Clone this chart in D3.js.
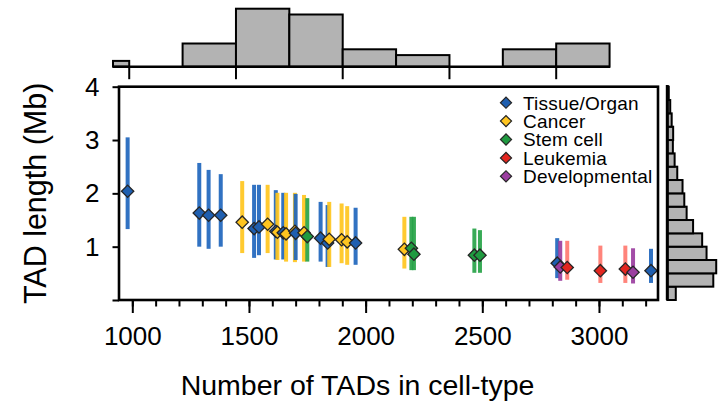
<!DOCTYPE html>
<html>
<head>
<meta charset="utf-8">
<script src="https://cdn.jsdelivr.net/npm/d3@7"></script>
<style>
  body { margin: 0; background: #fff; }
  text { font-family: "Liberation Sans", Arial, sans-serif; fill: #000; }
</style>
</head>
<body>
<svg id="chart" width="719" height="412"></svg>
<script>
// cell-type categories
const categories = ["Tissue/Organ", "Cancer", "Stem cell", "Leukemia", "Developmental"];
const fillColors = ["#1f5fb0", "#ffc520", "#1f9a40", "#e3261f", "#9b3ea0"];
const barColors  = ["#1f66bd", "#ffc61e", "#27a348", "#ff7a70", "#9b3ea0"];

// one entry per cell type: category index, number of TADs, mean / low / high TAD length (Mb)
const pointType = [0, 0, 0, 0, 1, 0, 0, 1, 0, 1, 0, 1, 1, 0, 1, 2, 0, 0, 1, 1, 1, 0, 1, 2, 2, 2, 2, 0, 4, 3, 3, 3, 4, 0];
const tadCount  = [980, 1287, 1327, 1379, 1471, 1522, 1543, 1580, 1615, 1622, 1647, 1659, 1697, 1700, 1736, 1750, 1807, 1837, 1844, 1897, 1921, 1957, 2166, 2196, 2207, 2466, 2490, 2821, 2834, 2864, 3006, 3113, 3146, 3223];
const tadMean   = [2.04, 1.63, 1.59, 1.59, 1.46, 1.34, 1.37, 1.42, 1.29, 1.27, 1.26, 1.24, 1.29, 1.25, 1.26, 1.19, 1.16, 1.07, 1.14, 1.13, 1.09, 1.07, 0.95, 0.97, 0.86, 0.84, 0.84, 0.69, 0.62, 0.61, 0.55, 0.58, 0.52, 0.55];
const tadLow    = [1.33, 1.00, 0.96, 1.00, 0.88, 0.79, 0.84, 0.88, 0.76, 0.75, 0.76, 0.72, 0.71, 0.75, 0.72, 0.72, 0.72, 0.62, 0.62, 0.69, 0.66, 0.66, 0.59, 0.56, 0.56, 0.51, 0.51, 0.41, 0.36, 0.38, 0.32, 0.32, 0.31, 0.32];
const tadHigh   = [3.05, 2.57, 2.44, 2.36, 2.23, 2.16, 2.16, 2.16, 2.06, 2.01, 2.01, 2.01, 2.01, 1.99, 1.97, 1.91, 1.84, 1.78, 1.84, 1.81, 1.76, 1.73, 1.56, 1.56, 1.56, 1.34, 1.31, 1.16, 1.11, 1.11, 1.02, 1.02, 0.97, 0.96];

// top marginal histogram (number of TADs, bins of 250)
const topBinStart = [750, 1000, 1250, 1500, 1750, 2000, 2250, 2500, 2750, 3000];
const topBinCount = [1, 0, 4, 10, 9, 3, 2, 0, 3, 4];

// right marginal histogram (TAD length, bins of 0.25 Mb, % of TADs)
const rightBinStart = [0, 0.25, 0.5, 0.75, 1, 1.25, 1.5, 1.75, 2, 2.25, 2.5, 2.75, 3, 3.25, 3.5, 3.75];
const rightBinPct   = [2.9, 15.7, 16.7, 13.4, 11.9, 8.8, 6.6, 5.8, 5.2, 3.4, 2.5, 1.9, 2.0, 1.5, 1.0, 0.5];

const xTicksMajor = [1000, 1500, 2000, 2500, 3000];
const yTicks = [0, 1, 2, 3, 4];

const points = tadCount.map((n, i) => ({
  n, mean: tadMean[i], lo: tadLow[i], hi: tadHigh[i], type: pointType[i]
}));

const svg = d3.select("#chart");

const pLeft = 119, pRight = 658, pTop = 86.7, pBottom = 300;

const x = d3.scaleLinear().domain([943, 3253]).range([pLeft, pRight]);
const y = d3.scaleLinear().domain([0, 4]).range([pBottom, pTop]);

// ---- top histogram
const hx = d3.scaleLinear().domain([924, 3252]).range([113, 610]);
const hBase = 66.7;
const hy = d3.scaleLinear().domain([0, 10]).range([hBase, 8.7]);

svg.append("g")
  .selectAll("rect")
  .data(topBinStart.map((s, i) => ({ s, c: topBinCount[i] })).filter(d => d.c > 0))
  .join("rect")
  .attr("x", d => hx(Math.max(d.s, hx.domain()[0])))
  .attr("width", d => hx(d.s + 250) - hx(Math.max(d.s, hx.domain()[0])))
  .attr("y", d => hy(d.c))
  .attr("height", d => hBase - hy(d.c))
  .attr("fill", "#b3b3b3")
  .attr("stroke", "#000")
  .attr("stroke-width", 2);

svg.append("line")
  .attr("x1", hx.range()[0]).attr("x2", hx.range()[1])
  .attr("y1", hBase).attr("y2", hBase)
  .attr("stroke", "#000").attr("stroke-width", 2.5);

svg.append("g")
  .selectAll("line")
  .data(xTicksMajor)
  .join("line")
  .attr("x1", d => hx(d)).attr("x2", d => hx(d))
  .attr("y1", hBase).attr("y2", hBase + 12.5)
  .attr("stroke", "#000").attr("stroke-width", 2);

// ---- right histogram
const rx = d3.scaleLinear().domain([0, 17]).range([667.3, 717.1]);

svg.append("g")
  .selectAll("rect")
  .data(rightBinStart.map((s, i) => ({ s, p: rightBinPct[i] })))
  .join("rect")
  .attr("x", rx(0))
  .attr("width", d => rx(d.p) - rx(0))
  .attr("y", d => y(d.s + 0.25))
  .attr("height", d => y(d.s) - y(d.s + 0.25))
  .attr("fill", "#b3b3b3")
  .attr("stroke", "#000")
  .attr("stroke-width", 2);

svg.append("line")
  .attr("x1", rx(0)).attr("x2", rx(0))
  .attr("y1", 85).attr("y2", pBottom)
  .attr("stroke", "#000").attr("stroke-width", 3);

// ---- axes
const xMinor = svg.append("g")
  .attr("transform", `translate(0,${pBottom})`)
  .call(d3.axisBottom(x).tickValues(d3.range(1000, 3201, 100)).tickSize(6.5).tickFormat(""));
xMinor.select(".domain").remove();

const xAxis = svg.append("g")
  .attr("transform", `translate(0,${pBottom})`)
  .call(d3.axisBottom(x).tickValues(xTicksMajor).tickSize(13).tickPadding(14).tickFormat(d3.format("d")));
xAxis.select(".domain").remove();
xAxis.selectAll("text").attr("font-size", 26).attr("dy", "0.71em");

const yAxis = svg.append("g")
  .attr("transform", `translate(${pLeft},0)`)
  .call(d3.axisLeft(y).tickValues(yTicks).tickSize(6.5).tickPadding(13)
    .tickFormat(d => d === 0 ? "" : d));
yAxis.select(".domain").remove();
yAxis.selectAll("text").attr("font-size", 26);

svg.selectAll(".tick line").attr("stroke", "#000").attr("stroke-width", 2);
svg.selectAll(".tick text").style("font-family", "'Liberation Sans', Arial, sans-serif");

// ---- error bars and points
const plot = svg.append("g");

plot.selectAll("rect.err")
  .data(points)
  .join("rect")
  .attr("class", "err")
  .attr("x", d => x(d.n) - 2)
  .attr("width", 4)
  .attr("y", d => y(d.hi))
  .attr("height", d => y(d.lo) - y(d.hi))
  .attr("fill", d => barColors[d.type])
  .attr("opacity", 0.92);

const diamond = d3.symbol().type(d3.symbolSquare).size(76);

plot.selectAll("path.pt")
  .data(points)
  .join("path")
  .attr("class", "pt")
  .attr("d", diamond)
  .attr("transform", d => `translate(${x(d.n)},${y(d.mean)}) rotate(45)`)
  .attr("fill", d => fillColors[d.type])
  .attr("stroke", "#262626")
  .attr("stroke-width", 1.3);

// ---- frame
svg.append("rect")
  .attr("x", pLeft).attr("y", pTop)
  .attr("width", pRight - pLeft).attr("height", pBottom - pTop)
  .attr("fill", "none")
  .attr("stroke", "#000")
  .attr("stroke-width", 2.6);

// ---- legend
const legend = svg.append("g").attr("transform", "translate(506,102.7)");
const rows = legend.selectAll("g")
  .data(categories)
  .join("g")
  .attr("transform", (d, i) => `translate(0,${i * 18.4})`);

rows.append("path")
  .attr("d", d3.symbol().type(d3.symbolSquare).size(62))
  .attr("transform", "rotate(45)")
  .attr("fill", (d, i) => fillColors[i])
  .attr("stroke", "#262626")
  .attr("stroke-width", 1.2);

rows.append("text")
  .attr("x", 17)
  .attr("dy", "0.36em")
  .attr("font-size", 19)
  .attr("letter-spacing", 0.2)
  .text(d => d);

// ---- titles
svg.append("text")
  .attr("x", (pLeft + pRight) / 2 - 31)
  .attr("y", 395)
  .attr("text-anchor", "middle")
  .attr("font-size", 28.5)
  .text("Number of TADs in cell-type");

svg.append("text")
  .attr("transform", `translate(46,${(pTop + pBottom) / 2}) rotate(-90)`)
  .attr("text-anchor", "middle")
  .attr("font-size", 30.5)
  .text("TAD length (Mb)");
</script>
</body>
</html>
